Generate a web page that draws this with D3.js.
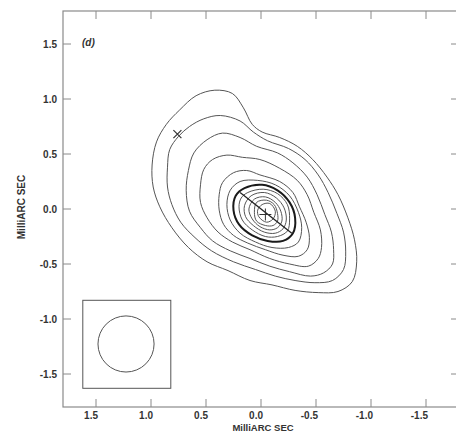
<!DOCTYPE html>
<html>
<head>
<meta charset="utf-8">
<script src="https://cdn.jsdelivr.net/npm/d3@7"></script>
<style>
  body { margin: 0; background: #fff; }
  svg { display: block; }
  text { font-family: "Liberation Sans", Arial, sans-serif; font-weight: bold; fill: #333; }
</style>
</head>
<body>
<div id="map_chart"></div>
<script>
var width = 456,
height = 433;

// axis ticks (milliarcsec)
var tick_values = [1.5, 1.0, 0.5, 0.0, -0.5, -1.0, -1.5];
var tick_labels = ["1.5", "1.0", "0.5", "0.0", "-0.5", "-1.0", "-1.5"];

// contours, outer to inner, [RA offset, Dec offset] in mas
var contour_1 = [[0.42,1.08],[0.26,1.05],[0.16,0.92],[0.08,0.77],[-0.01,0.70],[-0.17,0.65],[-0.33,0.57],
	[-0.47,0.45],[-0.60,0.29],[-0.70,0.13],[-0.79,-0.08],[-0.85,-0.28],[-0.87,-0.48],[-0.83,-0.66],
	[-0.70,-0.75],[-0.52,-0.76],[-0.31,-0.74],[-0.10,-0.69],[0.10,-0.65],[0.30,-0.56],[0.49,-0.48],
	[0.66,-0.35],[0.81,-0.17],[0.92,0.02],[0.98,0.20],[0.99,0.40],[0.95,0.61],[0.86,0.77],[0.74,0.90],[0.59,1.03]];
var contour_2 = [[0.37,0.85],[0.19,0.80],[0.07,0.70],[-0.06,0.62],[-0.25,0.55],[-0.40,0.45],[-0.52,0.31],
	[-0.61,0.15],[-0.69,-0.04],[-0.75,-0.21],[-0.77,-0.39],[-0.75,-0.55],[-0.65,-0.65],[-0.49,-0.67],
	[-0.31,-0.65],[-0.13,-0.61],[0.05,-0.55],[0.25,-0.48],[0.45,-0.38],[0.60,-0.26],[0.73,-0.12],
	[0.81,0.04],[0.85,0.20],[0.85,0.38],[0.83,0.54],[0.75,0.66],[0.65,0.75],[0.52,0.82]];
var contour_3 = [[0.35,0.69],[0.19,0.65],[0.04,0.57],[-0.15,0.51],[-0.29,0.42],[-0.42,0.29],[-0.51,0.13],
	[-0.58,-0.05],[-0.64,-0.21],[-0.66,-0.37],[-0.65,-0.50],[-0.57,-0.58],[-0.45,-0.61],[-0.26,-0.57],
	[-0.08,-0.52],[0.10,-0.45],[0.28,-0.38],[0.44,-0.29],[0.55,-0.17],[0.65,-0.02],[0.68,0.17],
	[0.66,0.35],[0.61,0.51],[0.49,0.63]];
var contour_4 = [[0.31,0.49],[0.17,0.47],[0.01,0.45],[-0.17,0.37],[-0.33,0.26],[-0.42,0.13],[-0.48,-0.03],
	[-0.54,-0.19],[-0.55,-0.35],[-0.52,-0.45],[-0.43,-0.52],[-0.26,-0.50],[-0.08,-0.45],[0.10,-0.37],
	[0.26,-0.30],[0.39,-0.21],[0.49,-0.08],[0.55,0.06],[0.55,0.22],[0.52,0.36],[0.44,0.45]];
var contour_5 = [[0.25,0.33],[0.13,0.35],[0.01,0.31],[-0.17,0.25],[-0.29,0.15],[-0.35,0.02],[-0.41,-0.12],
	[-0.44,-0.26],[-0.42,-0.37],[-0.34,-0.43],[-0.20,-0.42],[-0.04,-0.37],[0.12,-0.31],[0.25,-0.24],
	[0.34,-0.14],[0.38,-0.01],[0.38,0.13],[0.35,0.24]];
var contour_6 = [[0.19,0.25],[0.03,0.26],[-0.13,0.22],[-0.26,0.12],[-0.34,-0.03],[-0.37,-0.17],[-0.34,-0.30],
	[-0.25,-0.35],[-0.10,-0.35],[0.05,-0.30],[0.19,-0.22],[0.28,-0.10],[0.31,0.04],[0.28,0.17]];
var contour_thick = [[0.15,0.19],[-0.01,0.22],[-0.15,0.17],[-0.26,0.06],[-0.31,-0.08],[-0.29,-0.22],
	[-0.20,-0.29],[-0.06,-0.29],[0.08,-0.24],[0.20,-0.14],[0.25,-0.01],[0.23,0.12]];
var contour_8 = [[0.12,0.15],[-0.02,0.18],[-0.15,0.14],[-0.24,0.04],[-0.26,-0.09],[-0.24,-0.20],
	[-0.15,-0.25],[-0.04,-0.25],[0.08,-0.19],[0.17,-0.10],[0.20,0.02],[0.18,0.10]];
var contour_9 = [[0.09,0.12],[-0.03,0.15],[-0.14,0.10],[-0.21,0.01],[-0.23,-0.10],[-0.20,-0.18],
	[-0.13,-0.22],[-0.03,-0.21],[0.07,-0.15],[0.14,-0.07],[0.15,0.03]];
var contour_10 = [[0.06,0.09],[-0.04,0.11],[-0.13,0.06],[-0.18,-0.02],[-0.19,-0.11],[-0.15,-0.17],
	[-0.08,-0.19],[0.01,-0.16],[0.08,-0.09],[0.11,0.00]];
var contour_11 = [[0.04,0.06],[-0.05,0.08],[-0.12,0.04],[-0.15,-0.04],[-0.15,-0.11],[-0.11,-0.15],
	[-0.04,-0.15],[0.04,-0.11],[0.06,-0.03]];
var contour_12 = [[-0.01,0.04],[-0.08,0.05],[-0.13,-0.02],[-0.11,-0.09],[-0.05,-0.12],[0.02,-0.07],[0.03,-0.01]];

var thin_contours = [contour_1, contour_2, contour_3, contour_4, contour_5, contour_6,
	contour_8, contour_9, contour_10, contour_11, contour_12];

// jet axis, core and component markers
var jet_line = [[0.19, 0.15], [-0.28, -0.22]];
var core_pos = [-0.04, -0.05];
var comp_pos = [0.76, 0.68];

// restoring beam
var beam_box = { x0: 1.62, x1: 0.82, y0: -0.83, y1: -1.63 };
var beam_center = [1.227, -1.227];
var beam_radius = 0.255;

var svg = d3.select("#map_chart").append("svg")
	.attr("width", width)
	.attr("height", height);

// RA increases to the left
var x = d3.scaleLinear().domain([1.8, -1.8]).range([63, 459]);
var y = d3.scaleLinear().domain([-1.8, 1.8]).range([407, 11]);

var frame = svg.append("g");

frame.append("rect")
	.attr("x", x(1.8)).attr("y", y(1.8))
	.attr("width", x(-1.8) - x(1.8)).attr("height", y(-1.8) - y(1.8))
	.attr("fill", "none").attr("stroke", "#8a8a8a").attr("stroke-width", 1.2);

var tick_len = 8;

frame.selectAll(".tb").data(tick_values).enter().append("line")
	.attr("x1", function(d) { return x(d); }).attr("x2", function(d) { return x(d); })
	.attr("y1", y(-1.8)).attr("y2", y(-1.8) - tick_len)
	.attr("stroke", "#8a8a8a");
frame.selectAll(".tt").data(tick_values).enter().append("line")
	.attr("x1", function(d) { return x(d); }).attr("x2", function(d) { return x(d); })
	.attr("y1", y(1.8)).attr("y2", y(1.8) + tick_len)
	.attr("stroke", "#8a8a8a");
frame.selectAll(".tl").data(tick_values).enter().append("line")
	.attr("y1", function(d) { return y(d); }).attr("y2", function(d) { return y(d); })
	.attr("x1", x(1.8)).attr("x2", x(1.8) + tick_len)
	.attr("stroke", "#8a8a8a");
frame.selectAll(".tr").data(tick_values).enter().append("line")
	.attr("y1", function(d) { return y(d); }).attr("y2", function(d) { return y(d); })
	.attr("x1", x(-1.8)).attr("x2", x(-1.8) - tick_len)
	.attr("stroke", "#8a8a8a");

// tick labels
frame.selectAll(".xl").data(tick_values).enter().append("text")
	.attr("x", function(d) { return x(d) + 2; })
	.attr("y", 419)
	.attr("text-anchor", "end")
	.attr("font-size", "10px")
	.text(function(d, i) { return tick_labels[i]; });

frame.selectAll(".yl").data(tick_values).enter().append("text")
	.attr("x", 57)
	.attr("y", function(d) { return y(d); })
	.attr("dy", "0.36em")
	.attr("text-anchor", "end")
	.attr("font-size", "10px")
	.text(function(d, i) { return tick_labels[i]; });

svg.append("text")
	.attr("x", 263).attr("y", 431)
	.attr("text-anchor", "middle")
	.attr("font-size", "9.5px")
	.text("MilliARC SEC");

svg.append("text")
	.attr("transform", "translate(25,207) rotate(-90)")
	.attr("text-anchor", "middle")
	.attr("font-size", "10px")
	.text("MilliARC SEC");

svg.append("text")
	.attr("x", 82).attr("y", 46)
	.attr("font-size", "10px")
	.attr("font-style", "italic")
	.text("(d)");

// contours
var contour_line = d3.line()
	.x(function(d) { return x(d[0]); })
	.y(function(d) { return y(d[1]); })
	.curve(d3.curveCatmullRomClosed.alpha(0.5));

svg.append("g")
	.selectAll("path")
	.data(thin_contours)
	.enter().append("path")
	.attr("d", contour_line)
	.attr("fill", "none")
	.attr("stroke", "#555")
	.attr("stroke-width", 1);

svg.append("path")
	.attr("d", contour_line(contour_thick))
	.attr("fill", "none")
	.attr("stroke", "#1a1a1a")
	.attr("stroke-width", 2);

svg.append("line")
	.attr("x1", x(jet_line[0][0])).attr("y1", y(jet_line[0][1]))
	.attr("x2", x(jet_line[1][0])).attr("y2", y(jet_line[1][1]))
	.attr("stroke", "#222").attr("stroke-width", 1.3);

// core cross
var cx = x(core_pos[0]), cy = y(core_pos[1]);
svg.append("path")
	.attr("d", "M" + (cx - 6) + "," + cy + "H" + (cx + 6) + "M" + cx + "," + (cy - 6) + "V" + (cy + 6))
	.attr("stroke", "#333").attr("stroke-width", 1);

// component x-mark
var mx = x(comp_pos[0]), my = y(comp_pos[1]);
svg.append("path")
	.attr("d", "M" + (mx - 4) + "," + (my - 4) + "L" + (mx + 4) + "," + (my + 4) +
		"M" + (mx - 4) + "," + (my + 4) + "L" + (mx + 4) + "," + (my - 4))
	.attr("stroke", "#333").attr("stroke-width", 1.2);

// beam
svg.append("rect")
	.attr("x", x(beam_box.x0)).attr("y", y(beam_box.y0))
	.attr("width", x(beam_box.x1) - x(beam_box.x0))
	.attr("height", y(beam_box.y1) - y(beam_box.y0))
	.attr("fill", "none").attr("stroke", "#555").attr("stroke-width", 1);

svg.append("circle")
	.attr("cx", x(beam_center[0])).attr("cy", y(beam_center[1]))
	.attr("r", x(beam_center[0]) - x(beam_center[0] + beam_radius))
	.attr("fill", "none").attr("stroke", "#555").attr("stroke-width", 1);
</script>
</body>
</html>
